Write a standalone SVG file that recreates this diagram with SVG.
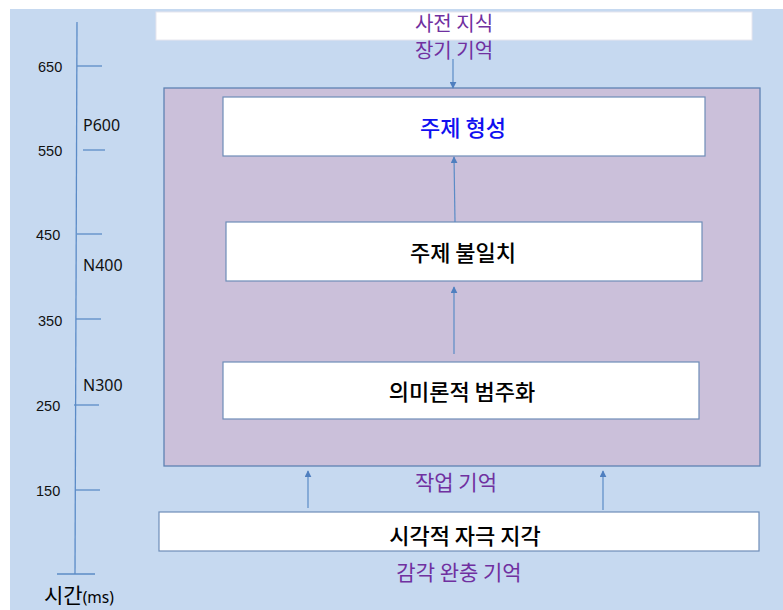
<svg xmlns="http://www.w3.org/2000/svg" width="783" height="610" viewBox="0 0 783 610">
<defs>
<style>
.ko{font-family:"Noto Sans CJK KR","Noto Sans",sans-serif}
.pu{fill:#7030A0;font-size:21px;text-anchor:middle}
.bk{fill:#000;font-size:22px;text-anchor:middle;font-weight:500}
.num{font-family:"Liberation Sans","Noto Sans",sans-serif;font-size:14.5px;fill:#111}
.lab{font-family:"Noto Sans","Liberation Sans",sans-serif;font-size:16px;fill:#111}
.box{fill:#fff;stroke:#6E8DB8;stroke-width:1.2}
.ax{stroke:#5B8BC6;stroke-width:1.3;fill:none}
.con{stroke:#5B8BC6;stroke-width:1.2;fill:none;marker-end:url(#ah)}
</style>
<marker id="ah" viewBox="0 0 10 10" refX="9" refY="5" markerWidth="7" markerHeight="7" orient="auto" markerUnits="userSpaceOnUse">
<path d="M0,0 L10,5 L0,10 z" fill="#4F7FBF"/>
</marker>
</defs>
<rect x="0" y="0" width="783" height="610" fill="#fff"/>
<rect x="10" y="9" width="773" height="601" fill="#C6D9F0"/>
<g id="axis">
<line class="ax" x1="77" y1="22" x2="75" y2="574"/>
<line class="ax" x1="57" y1="574" x2="95" y2="574"/>
<line class="ax" x1="77" y1="66" x2="102" y2="66"/>
<line class="ax" x1="83" y1="150" x2="105" y2="150"/>
<line class="ax" x1="77" y1="234" x2="102" y2="234"/>
<line class="ax" x1="76" y1="319" x2="101" y2="319"/>
<line class="ax" x1="74" y1="405" x2="99" y2="405"/>
<line class="ax" x1="75" y1="490" x2="100" y2="490"/>
<text class="num" x="38" y="72">650</text>
<text class="num" x="38" y="156">550</text>
<text class="num" x="36" y="240">450</text>
<text class="num" x="38" y="326">350</text>
<text class="num" x="36" y="411">250</text>
<text class="num" x="36" y="496">150</text>
<text class="lab" x="83" y="131">P600</text>
<text class="lab" x="83" y="271">N400</text>
<text class="lab" x="83" y="391">N300</text>
<text x="44" y="603" class="ko" font-size="21" fill="#000">시간<tspan font-family="Noto Sans,sans-serif" font-size="15.5">(ms)</tspan></text>
</g>
<g id="prior">
<rect x="156" y="12" width="596" height="28" fill="#fff" stroke="#e6e6ee" stroke-width="1"/>
<text class="ko pu" x="454" y="31" font-size="20" style="font-size:20px">사전 지식</text>
<text class="ko pu" x="454" y="58" style="font-size:20px">장기 기억</text>
</g>
<g id="working">
<rect x="164" y="88" width="596" height="378" fill="#CBC0DA" stroke="#5E82B3" stroke-width="1.3"/>
<text class="ko pu" x="456" y="490">작업 기억</text>
</g>
<g id="theme">
<rect class="box" x="223" y="97" width="482" height="59"/>
<text class="ko bk" x="463" y="136" style="fill:#1010F0">주제 형성</text>
</g>
<g id="mismatch">
<rect class="box" x="226" y="222" width="476" height="59"/>
<text class="ko bk" x="463" y="261">주제 불일치</text>
</g>
<g id="semantic">
<rect class="box" x="223" y="362" width="476" height="57"/>
<text class="ko bk" x="462" y="400">의미론적 범주화</text>
</g>
<g id="perception">
<rect class="box" x="159" y="512" width="600" height="39"/>
<text class="ko bk" x="465" y="544">시각적 자극 지각</text>
<text class="ko pu" x="459" y="580">감각 완충 기억</text>
</g>
<g id="connectors">
<line class="con" x1="453" y1="59" x2="453" y2="88"/>
<line class="con" x1="455" y1="222" x2="454" y2="157"/>
<line class="con" x1="454" y1="354" x2="454" y2="287"/>
<line class="con" x1="308" y1="508" x2="308" y2="471"/>
<line class="con" x1="603" y1="510" x2="603" y2="471"/>
</g>
</svg>
